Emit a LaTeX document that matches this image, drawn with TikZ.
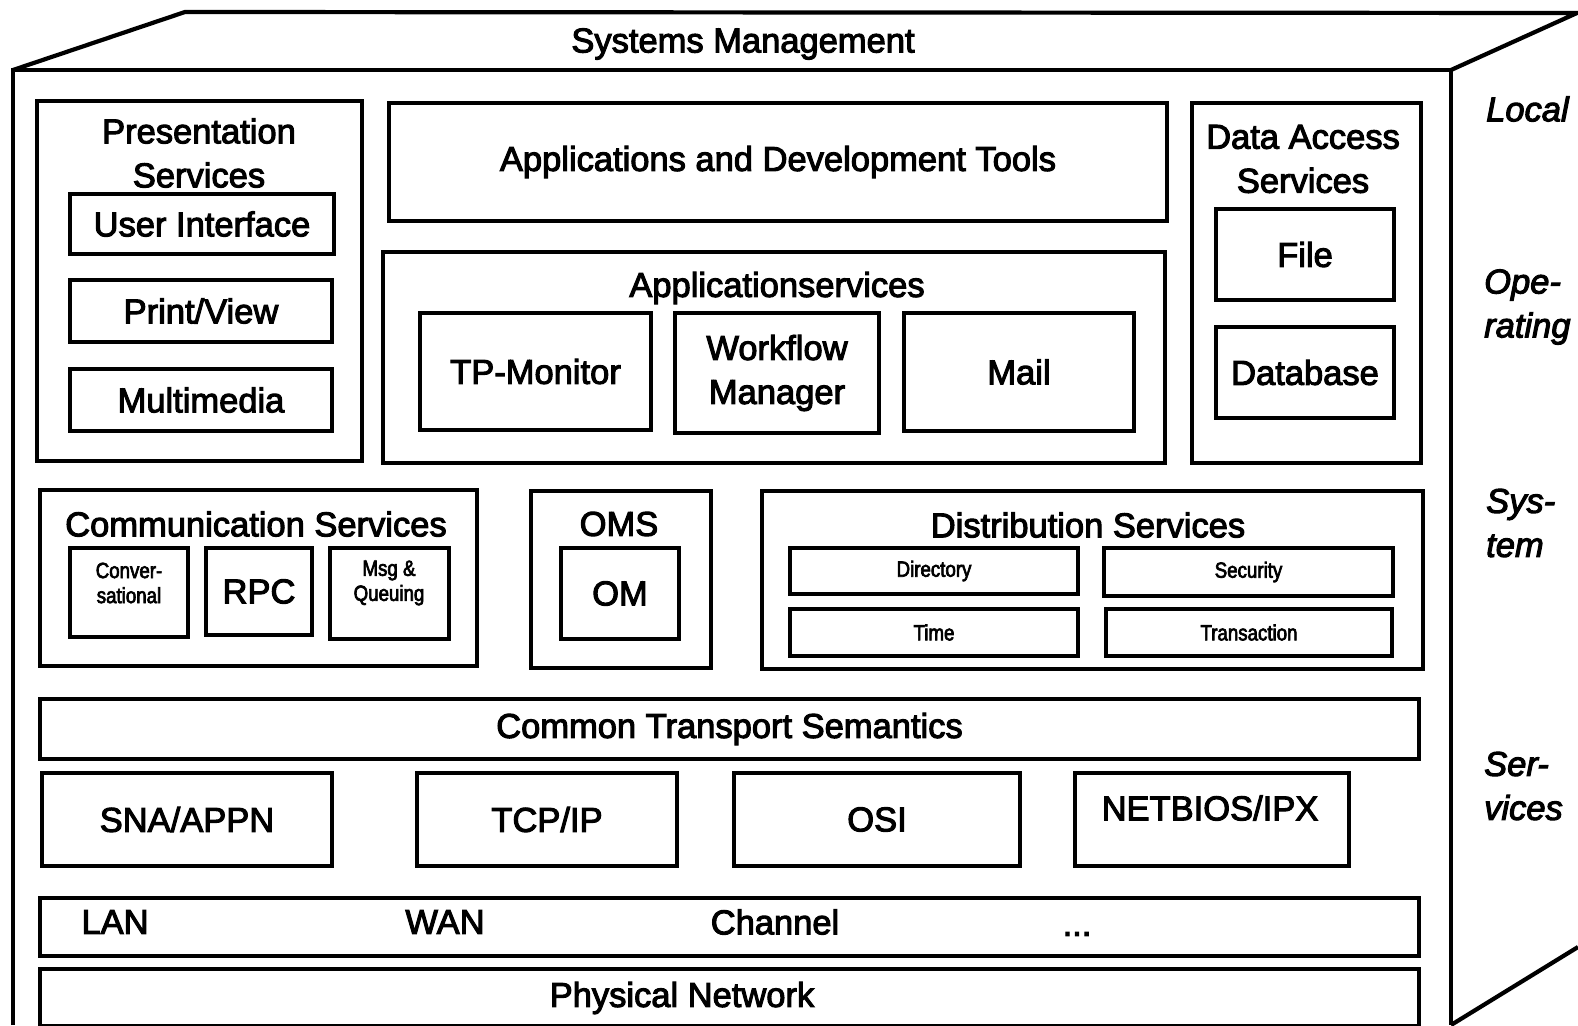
\documentclass[tikz,border=0pt]{standalone}
\usepackage{fontspec}
\setmainfont{Liberation Sans}[FakeBold=3]
\newfontfamily\smallface{Liberation Sans}[FakeBold=3, FakeStretch=0.85]
\newcommand\mainsize{\fontsize{34.5}{44}\selectfont}
\newcommand\smallsize{\smallface\fontsize{22}{25}\selectfont}

% rectangle node from its two corners: name, x1, y1, x2, y2, text
\newcommand\boxnode[6]{%
  \node[bx, minimum width={(#4-#2)*1pt}, minimum height={(#5-#3)*1pt}]
    (#1) at ({(#2+#4)/2},{(#3+#5)/2}) {#6};}

\begin{document}
\begin{tikzpicture}[x=1pt, y=-1pt,
    every node/.style={font=\mainsize, inner sep=0pt, align=center},
    bx/.style={draw, line width=3.6pt},
    small/.style={font=\smallsize},
    side/.style={font=\mainsize\itshape, anchor=west, align=left},
    frame/.style={line width=4.2pt, line join=miter}]
\useasboundingbox (0,0) rectangle (1578,1025);

% cube outline
\coordinate (ftl) at (13,70);
\coordinate (ftr) at (1451,70);
\coordinate (fbl) at (13,1025);
\coordinate (fbr) at (1451,1025);
\coordinate (btl) at (185,12);
\coordinate (btr) at (1577,13);
\coordinate (bbr) at (1578,947);
\draw[frame] (fbl) -- (ftl) -- (ftr) -- (fbr);
\draw[frame] (ftl) -- (btl) -- (btr) -- (ftr);
\draw[frame] (fbr) -- (bbr);

\node (sysmgmt) at (743,44) {Systems Management};

% presentation services
\boxnode{pres}{37}{101}{362}{461}{}
\node (prest) at (199,153) {Presentation\\Services};
\boxnode{ui}{70}{194}{334}{254}{User Interface}
\boxnode{pv}{70}{280}{332}{342}{Print/View}
\boxnode{mm}{70}{369}{332}{431}{Multimedia}

% applications
\boxnode{adt}{389}{103}{1167}{221}{Applications and Development Tools}
\boxnode{aps}{383}{252}{1165}{463}{}
\node (apst) at (777,288) {Applicationservices};
\boxnode{tp}{420}{313}{651}{430}{TP-Monitor}
\boxnode{wf}{675}{313}{879}{433}{Workflow\\Manager}
\boxnode{mail}{904}{313}{1134}{431}{Mail}

% data access
\boxnode{das}{1192}{103}{1421}{463}{}
\node (dast) at (1303,159) {Data Access\\Services};
\boxnode{file}{1216}{209}{1394}{300}{File}
\boxnode{db}{1216}{327}{1394}{418}{Database}

% communication services
\boxnode{comm}{40}{490}{477}{666}{}
\node (commt) at (256,524) {Communication Services};
\boxnode{conv}{70}{548}{188}{637}{}
\node[small] (convt) at (129,583) {Conver-\\sational};
\boxnode{rpc}{206}{548}{312}{635}{RPC}
\boxnode{msg}{330}{548}{449}{639}{}
\node[small] (msgt) at (389,583) {Msg \&\\Queuing};

% object management
\boxnode{oms}{531}{491}{711}{668}{}
\node (omst) at (619,524) {OMS};
\boxnode{om}{561}{548}{679}{639}{OM}

% distribution services
\boxnode{dist}{762}{491}{1423}{669}{}
\node (distt) at (1088,525) {Distribution Services};
\boxnode{dir}{790}{548}{1078}{594}{}
\node[small] at (dir) {Directory};
\boxnode{sec}{1104}{548}{1393}{596}{}
\node[small] at (sec) {Security};
\boxnode{time}{790}{609}{1078}{656}{}
\node[small] at (time) {Time};
\boxnode{trans}{1106}{609}{1392}{656}{}
\node[small] at (trans) {Transaction};

% transport
\boxnode{cts}{40}{699}{1419}{759}{Common Transport Semantics}
\boxnode{sna}{42}{773}{332}{866}{SNA/APPN}
\boxnode{tcp}{417}{773}{677}{866}{TCP/IP}
\boxnode{osi}{734}{773}{1020}{866}{OSI}
\boxnode{netb}{1075}{773}{1349}{866}{}
\node (netbt) at (1210,808) {NETBIOS/IPX};

% networks
\boxnode{net}{40}{898}{1419}{956}{}
\node (lan) at (115,922) {LAN};
\node (wan) at (445,922) {WAN};
\node (chan) at (775,922) {Channel};
\node (dots) at (1077,934) {...};
\boxnode{phys}{40}{969}{1419}{1026}{}
\node (physt) at (682,998) {Physical Network};

% side caption
\node[side] (s1) at (1486,109) {Local};
\node[side] (s2) at (1484,307) {Ope-\\rating};
\node[side] (s3) at (1486,523) {Sys-\\tem};
\node[side] (s4) at (1484,786) {Ser-\\vices};
\end{tikzpicture}
\end{document}
